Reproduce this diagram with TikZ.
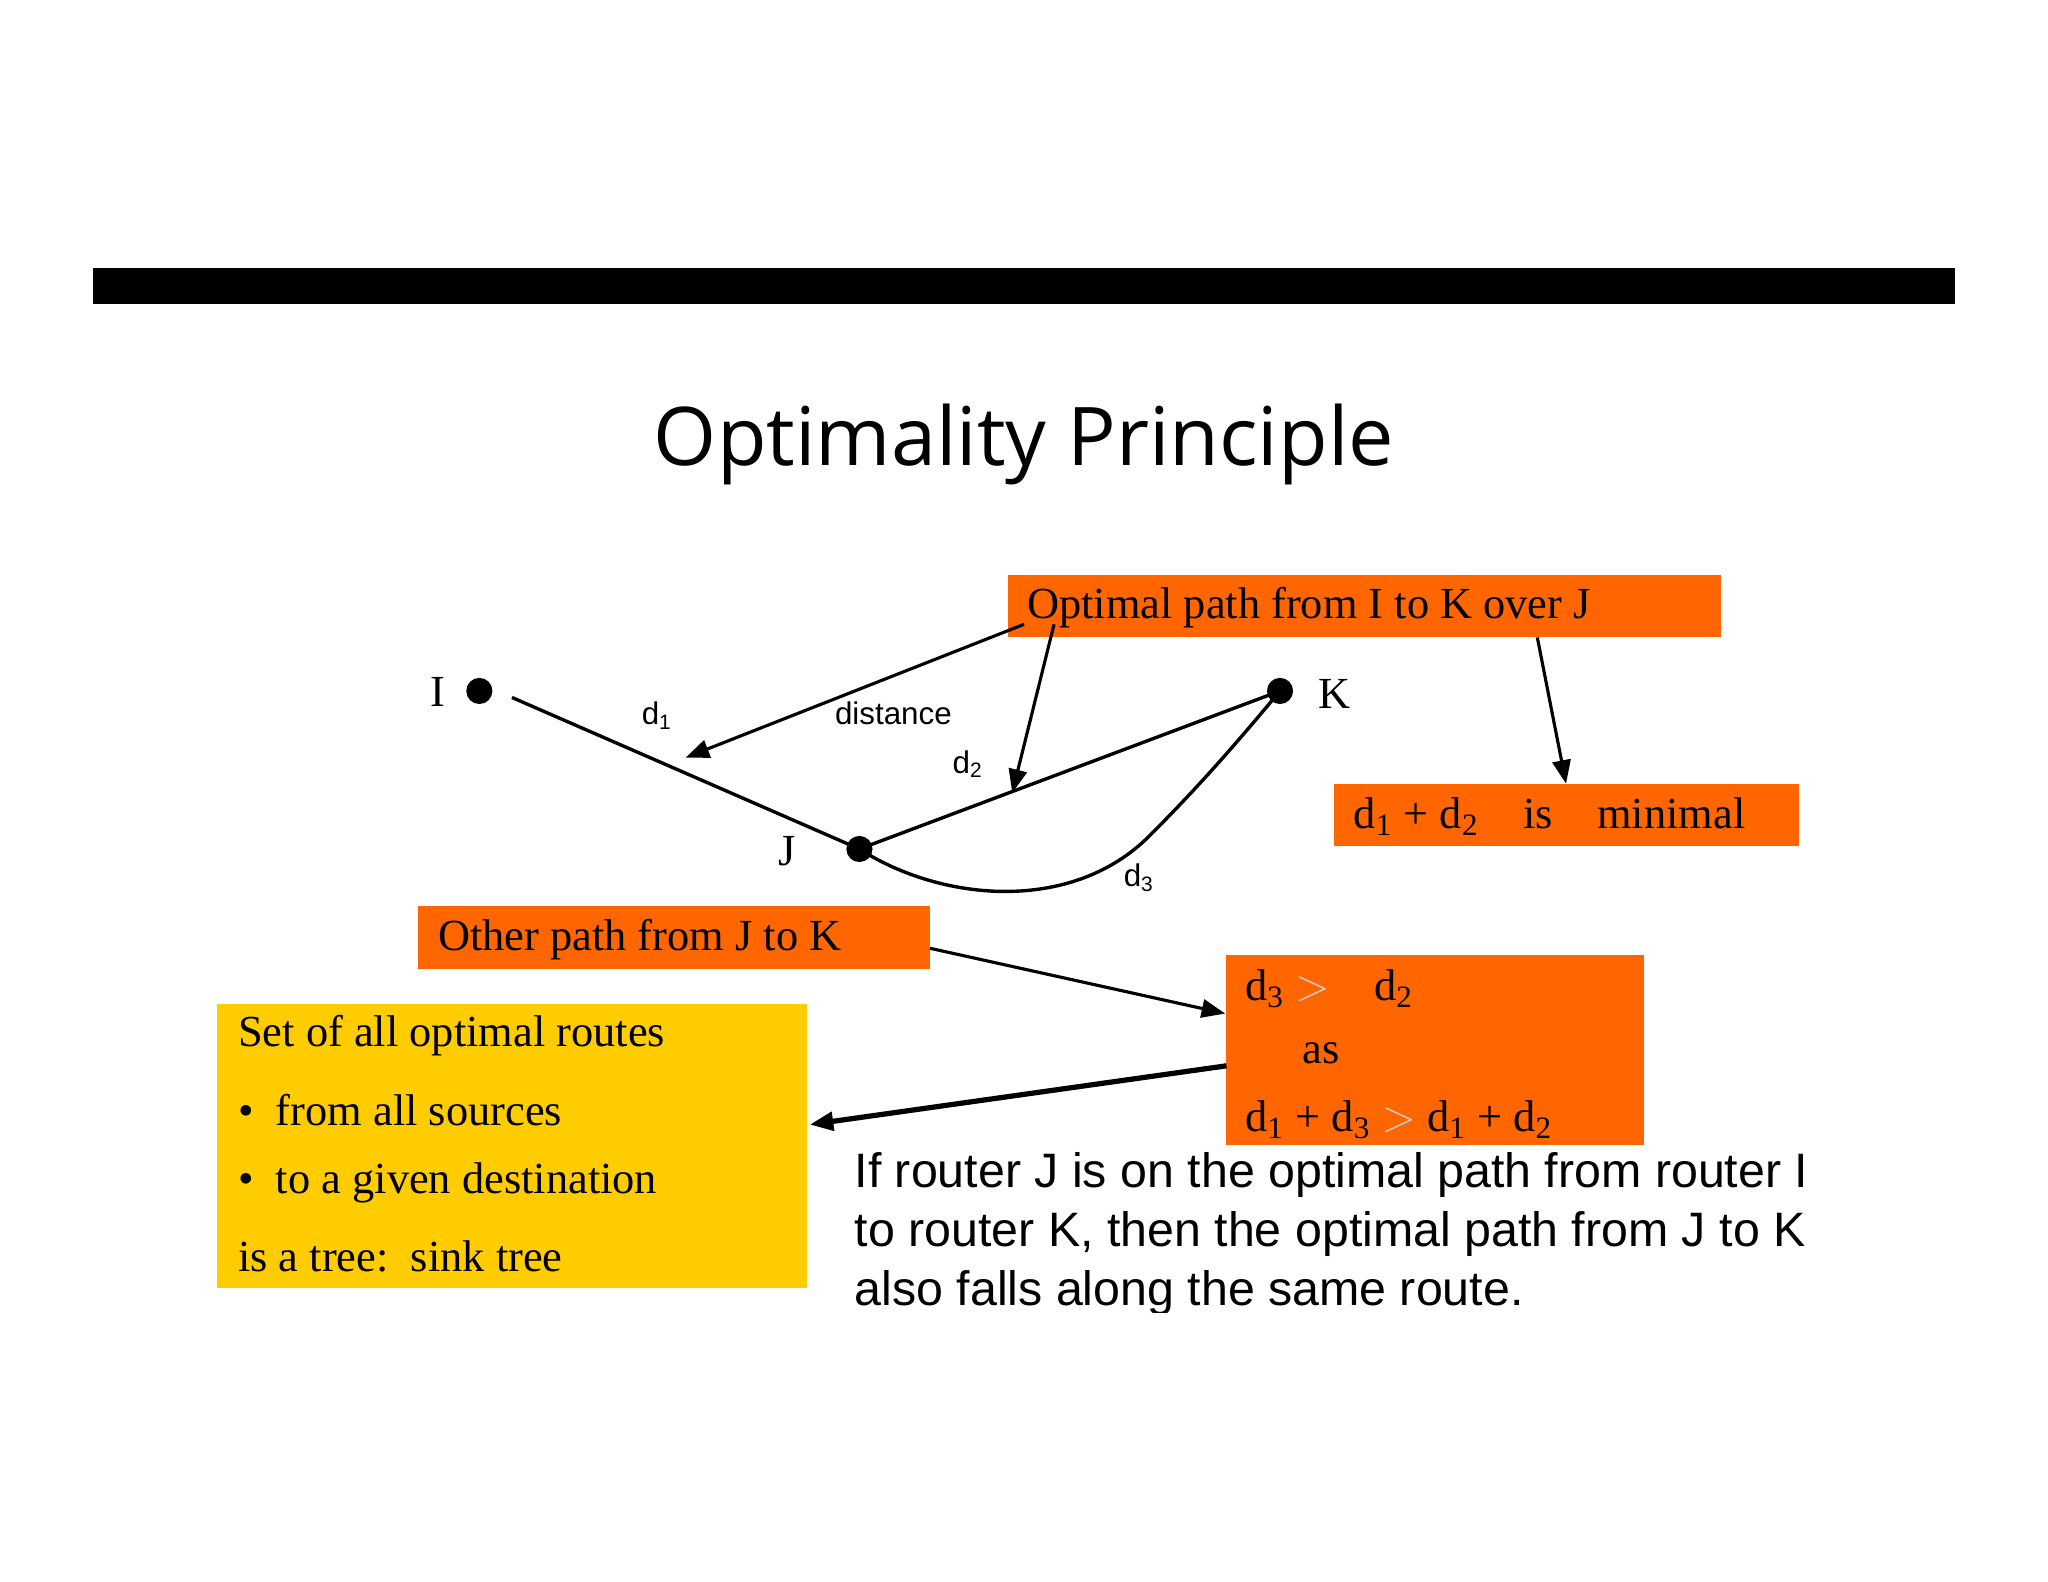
\documentclass[tikz,border=0pt]{standalone}
\usepackage{fontspec}
\setmainfont{Liberation Serif}
\newfontfamily\sans{Liberation Sans}
\newfontfamily\ttl{Open Sans}
\usetikzlibrary{arrows.meta}
\definecolor{org}{HTML}{FF6600}
\definecolor{ylw}{HTML}{FFCC00}
\begin{document}
\begin{tikzpicture}[x=0.5pt,y=-0.5pt,
  box/.style={fill=org,inner sep=0},
  lbl/.style={font=\fontsize{17}{20}\selectfont,anchor=west,inner sep=0},
  dot/.style={circle,fill=black,inner sep=0,minimum size=10pt},
  arr/.style={-{Triangle[length=9pt,width=7pt]},line width=1.2pt},
  ln/.style={line width=1.3pt}]
\useasboundingbox (0,0) rectangle (1568,1211);
\fill (71,205) rectangle (1497,233);
\node[font=\ttl\fontsize{31}{36}\selectfont] (title) at (784,340) {Optimality Principle};
% nodes
\node[dot] (I) at (367,529) {};
\node[dot] (K) at (980,529) {};
\node[dot] (J) at (658,650) {};
\node[font=\fontsize{17}{20}\selectfont] (Il) at (335,530) {I};
\node[font=\fontsize{17}{20}\selectfont] (Kl) at (1022,531) {K};
\node[font=\fontsize{17}{20}\selectfont] (Jl) at (603,652) {J};
\coordinate (Is) at (392,534);
\draw[ln] (Is) -- (J.center);
\draw[ln] (J.center) -- (K.center);
\draw[ln] (J.center) .. controls (720,690) and (820,700) .. (880,640) .. controls (920,600) and (950,565) .. (K.center);
\node[font=\sans\fontsize{12}{14}\selectfont] (d1) at (503,548) {d\textsubscript{1}};
\node[font=\sans\fontsize{12}{14}\selectfont] (d2) at (741,585) {d\textsubscript{2}};
\node[font=\sans\fontsize{12}{14}\selectfont] (d3) at (872,672) {d\textsubscript{3}};
\node[font=\sans\fontsize{12}{14}\selectfont] (dist) at (684,546) {distance};
% boxes
\fill[org] (772,440) rectangle (1318,488);
\node[lbl] (b1) at (786,465) {Optimal path from I to K over J};
\fill[org] (1021,600) rectangle (1377,648);
\node[lbl] (b2) at (1036,625) {d\textsubscript{1} + d\textsubscript{2}\quad is\quad minimal};
\fill[org] (320,694) rectangle (712,742);
\node[lbl] (b3) at (335,719) {Other path from J to K};
\fill[org] (939,731) rectangle (1259,877);
\node[lbl] (b4a) at (953,757) {d\textsubscript{3} \textcolor{gray!40}{$>$}\quad d\textsubscript{2}};
\node[lbl] (b4b) at (997,806) {as};
\node[lbl] (b4c) at (953,857) {d\textsubscript{1} + d\textsubscript{3} \textcolor{gray!40}{$>$} d\textsubscript{1} + d\textsubscript{2}};
\fill[ylw] (166,769) rectangle (618,986);
\node[lbl] (y1) at (182,793) {Set of all optimal routes};
\node[lbl] (y2) at (182,850) {\textbullet\ \ from all sources};
\node[lbl] (y3) at (182,906) {\textbullet\ \ to a given destination};
\node[lbl] (y4) at (182,962) {is a tree:\ \ sink tree};
% arrows
\coordinate (a1s) at (784,478); \coordinate (a1e) at (525,580);
\coordinate (a2s) at (807,478); \coordinate (a2e) at (775,607);
\coordinate (a3s) at (1177,488); \coordinate (a3e) at (1199,600);
\coordinate (a4s) at (712,726); \coordinate (a4e) at (938,776);
\coordinate (a5s) at (939,816); \coordinate (a5e) at (620,861);
\draw[arr] (a1s) -- (a1e);
\draw[arr] (a2s) -- (a2e);
\draw[arr] (a3s) -- (a3e);
\draw[arr] (a4s) -- (a4e);
\draw[arr,line width=2pt] (a5s) -- (a5e);
% bottom text
\begin{scope}
\clip (640,875) rectangle (1520,1005);
\node[anchor=north west,inner sep=0,align=left,font=\sans\fontsize{18.5}{22.5}\selectfont] (txt) at (654,882)
{If router J is on the optimal path from router I\\to router K, then the optimal path from J to K\\also falls along the same route.};
\end{scope}
\end{tikzpicture}
\end{document}
